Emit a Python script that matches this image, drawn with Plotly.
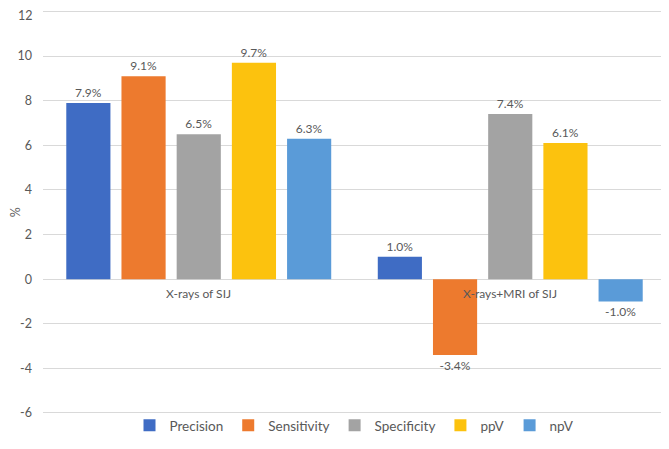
import plotly.graph_objects as go

categories = ["X-rays of SIJ", "X-rays+MRI of SIJ"]
series_names = ["Precision", "Sensitivity", "Specificity", "ppV", "npV"]
precision = [7.9, 1.0]
sensitivity = [9.1, -3.4]
specificity = [6.5, 7.4]
ppv = [9.7, 6.1]
npv = [6.3, -1.0]
y_ticks = [-6, -4, -2, 0, 2, 4, 6, 8, 10, 12]
y_tick_labels = ["-6", "-4", "-2", "0", "2", "4", "6", "8", "10", "12"]

values = [precision, sensitivity, specificity, ppv, npv]
colors = ["#3F6CC4", "#ED7A2E", "#A3A3A3", "#FCC20E", "#5A9BD8"]
font_family = "Lato, 'Open Sans', sans-serif"
text_color = "#595959"

# page body has an 8px margin; size the figure so the page does not overflow
W, H = 661, 433
OFF = 8
PX_PER_UNIT = (413 - 11.5) / 18.0
PAD = 0.08  # small padding so the end gridlines are not clipped
y_top_px = 11.5 - PAD * PX_PER_UNIT - OFF
y_bot_px = 413 + PAD * PX_PER_UNIT - OFF

fig = go.Figure()
for name, vals, col in zip(series_names, values, colors):
    fig.add_trace(go.Bar(
        x=categories, y=vals, name=name,
        marker=dict(color=col, line=dict(width=0)),
        texttemplate="%{y:.1f}%", textposition="outside",
        textfont=dict(size=12, color=text_color, family=font_family),
        cliponaxis=False,
    ))

for c in categories:
    fig.add_annotation(x=c, y=0, xref="x", yref="y", text=c, showarrow=False,
                       yanchor="top", yshift=-5,
                       font=dict(size=12, color=text_color, family=font_family))

# the top tick label would be clipped by the page edge; draw it just inside the page
shown_tick_labels = y_tick_labels[:-1] + [""]
fig.add_annotation(x=0, xref="paper", xanchor="right", xshift=-9,
                   y=y_ticks[-1], yref="y", yanchor="top", yshift=4,
                   text=y_tick_labels[-1], showarrow=False, borderpad=0,
                   font=dict(size=12.5, color=text_color, family=font_family))

fig.update_layout(
    width=W, height=H,
    margin=dict(l=43 - OFF, r=3, t=0, b=0),
    paper_bgcolor="white", plot_bgcolor="white",
    barmode="group", bargap=0.114, bargroupgap=0.2,
    font=dict(family=font_family, size=12, color=text_color),
    showlegend=True,
    legend=dict(orientation="h", x=0.5, xanchor="center", y=0, yanchor="bottom",
                bgcolor="rgba(0,0,0,0)",
                font=dict(size=13.5, color=text_color), itemwidth=30,
                traceorder="normal"),
    xaxis=dict(showticklabels=False, showgrid=False, zeroline=False, showline=False,
               ticks="", automargin=False),
    yaxis=dict(range=[-6 - PAD, 12 + PAD], tickvals=y_ticks, ticktext=shown_tick_labels,
               domain=[(H - y_bot_px) / H, (H - y_top_px) / H], automargin=False,
               showgrid=True, gridcolor="#D9D9D9",
               gridwidth=1, zeroline=True, zerolinecolor="#D9D9D9", zerolinewidth=1,
               showline=False, ticks="", ticklabelstandoff=10,
               ticklabeloverflow="allow",
               tickfont=dict(size=12.5, color=text_color),
               title=dict(text="%", font=dict(size=12.5, color=text_color), standoff=4)),
)

fig.write_html("out.html")
